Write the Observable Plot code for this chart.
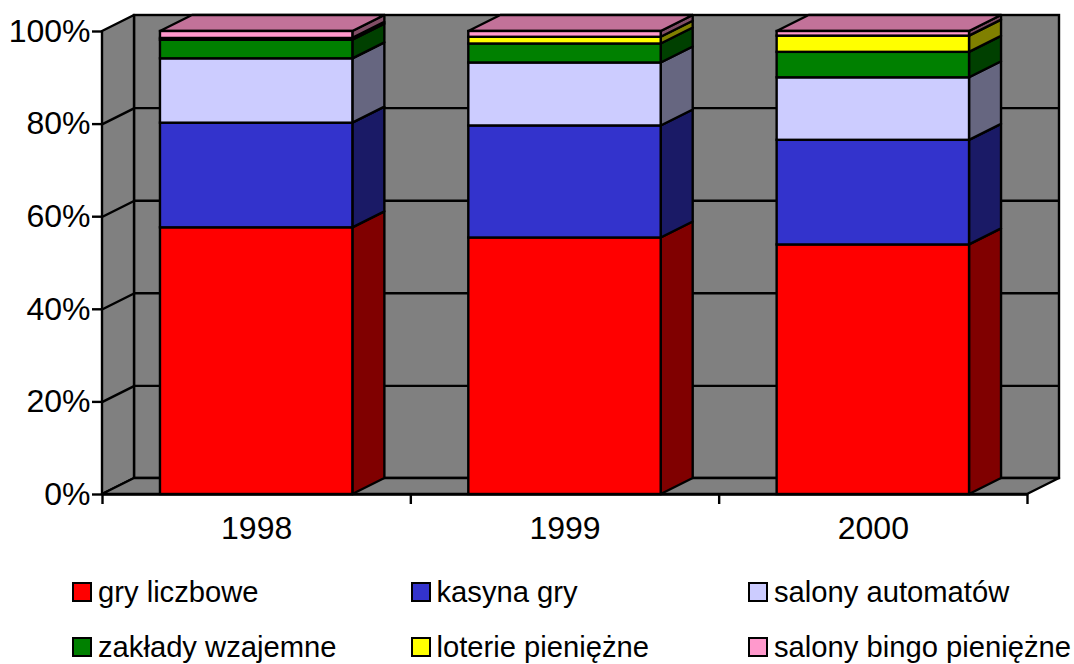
<!DOCTYPE html>
<html>
<head>
<meta charset="utf-8">
<script src="https://cdn.jsdelivr.net/npm/d3@7"></script>
<script src="https://cdn.jsdelivr.net/npm/@observablehq/plot@0.6"></script>
<style>
html,body{margin:0;padding:0;background:#fff;overflow:hidden}
body{width:1074px;height:664px;position:relative;font-family:"Liberation Sans",Arial,sans-serif;color:#000}
svg{display:block}
#legend{position:absolute;left:72px;top:572px;display:grid;grid-template-columns:338.5px 337.5px 320px;grid-auto-rows:55px;font-size:29.2px}
.item{display:flex;align-items:center;height:40px;white-space:nowrap}
.sw{box-sizing:border-box;width:20px;height:20px;border:2.5px solid #000;margin-right:6px;flex:none;position:relative;top:0}
</style>
</head>
<body>
<div id="chart"></div>
<div id="legend"></div>
<script>
const years = ["1998", "1999", "2000"];
const seriesNames = ["gry liczbowe", "kasyna gry", "salony automatów", "zakłady wzajemne", "loterie pieniężne", "salony bingo pieniężne"];
const frontColors = ["#ff0000", "#3333cc", "#ccccff", "#008000", "#ffff00", "#ff99cc"];
const sideColors = ["#800000", "#1a1a66", "#666680", "#004000", "#808000", "#804d66"];
const topColor = "#c27299";
const gryLiczbowe = [57.6, 55.4, 53.9];
const kasynaGry = [22.6, 24.2, 22.6];
const salonyAutomatow = [13.9, 13.6, 13.5];
const zakladyWzajemne = [4.0, 4.1, 5.5];
const loteriePieniezne = [0.4, 1.45, 3.5];
const salonyBingo = [1.5, 1.25, 1.0];
const seriesValues = [gryLiczbowe, kasynaGry, salonyAutomatow, zakladyWzajemne, loteriePieniezne, salonyBingo];
const yTicks = [0, 20, 40, 60, 80, 100];

// 3-D projection expressed in data units
const depthX = 32 / (925 / 3);
const depthY = 16 / 4.63;
const gap = 0.188;
const wallGray = "#808080";
const n = years.length;

const segments = [];
years.forEach((year, i) => {
  let lo = 0;
  seriesValues.forEach((vals, s) => {
    const hi = lo + vals[i];
    segments.push({i, s, lo, hi, x1: i + gap, x2: i + 1 - gap});
    lo = hi;
  });
});
const tops = years.map((_, i) => ({i, x1: i + gap, x2: i + 1 - gap, y: 100}));
const sidePts = segments.flatMap((d, k) => [
  {k, x: d.x2, y1: d.lo, y2: d.hi, fill: sideColors[d.s]},
  {k, x: d.x2 + depthX, y1: d.lo + depthY, y2: d.hi + depthY, fill: sideColors[d.s]}
]);
const topPts = tops.flatMap(d => [
  {k: d.i, y: d.y, x1: d.x1, x2: d.x2},
  {k: d.i, y: d.y + depthY, x1: d.x1 + depthX, x2: d.x2 + depthX}
]);
const line = {stroke: "#000", strokeWidth: 2.4};

const chart = Plot.plot({
  width: 1074,
  height: 560,
  marginLeft: 102,
  marginRight: 15,
  marginTop: 15,
  marginBottom: 66,
  x: {domain: [0, n + depthX], range: [102, 1059]},
  y: {domain: [0, 100 + depthY], range: [494, 15]},
  color: {type: "identity"},
  style: {fontFamily: "'Liberation Sans', Arial, sans-serif", background: "transparent", overflow: "visible"},
  marks: [
    // back wall
    Plot.rect([0], {x1: depthX, x2: n + depthX, y1: depthY, y2: 100 + depthY, fill: wallGray, ...line}),
    Plot.ruleY(yTicks.slice(1, -1), {y: d => d + depthY, x1: depthX, x2: n + depthX, ...line}),
    // left wall
    Plot.areaY([{x: 0, y1: 0, y2: 100}, {x: depthX, y1: depthY, y2: 100 + depthY}], {x: "x", y1: "y1", y2: "y2", fill: wallGray, ...line}),
    Plot.link(yTicks.slice(1, -1), {x1: 0, y1: d => d, x2: depthX, y2: d => d + depthY, ...line}),
    // floor
    Plot.areaX([{y: 0, x1: 0, x2: n}, {y: depthY, x1: depthX, x2: n + depthX}], {y: "y", x1: "x1", x2: "x2", fill: wallGray, ...line}),
    // bar side faces
    Plot.areaY(sidePts, {x: "x", y1: "y1", y2: "y2", z: "k", fill: "fill", ...line}),
    // bar top faces
    Plot.areaX(topPts, {y: "y", x1: "x1", x2: "x2", z: "k", fill: topColor, ...line}),
    // bar front faces
    Plot.rect(segments, {x1: "x1", x2: "x2", y1: "lo", y2: "hi", fill: d => frontColors[d.s], ...line}),
    // axes
    Plot.ruleY([0], {x1: 0, x2: n, ...line}),
    Plot.axisY({ticks: yTicks, tickSize: 10, tickPadding: 2, tickFormat: d => d + "%", fontSize: 32, strokeWidth: 2.4, stroke: "#000", fill: "#000", label: null}),
    Plot.axisX({ticks: d3.range(n + 1), tickSize: 10, tickFormat: () => "", strokeWidth: 2.4, stroke: "#000", label: null}),
    Plot.axisX({ticks: years.map((_, i) => i + 0.5), tickSize: 0, tickPadding: 22, tickFormat: d => years[Math.floor(d)], fontSize: 32, fill: "#000", label: null})
  ]
});
document.getElementById("chart").appendChild(chart);

const legend = document.getElementById("legend");
seriesNames.forEach((name, s) => {
  const item = document.createElement("div");
  item.className = "item";
  const sw = document.createElement("span");
  sw.className = "sw";
  sw.style.background = frontColors[s];
  item.appendChild(sw);
  item.appendChild(document.createTextNode(name));
  legend.appendChild(item);
});
</script>
</body>
</html>
